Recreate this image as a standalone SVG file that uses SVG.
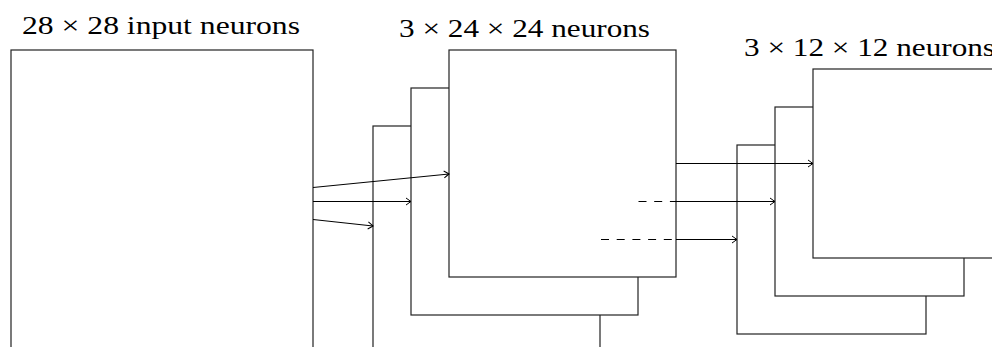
<svg xmlns="http://www.w3.org/2000/svg" width="992" height="347" viewBox="0 0 992 347">
<style>
.lbl{font-family:"Liberation Serif","DejaVu Serif",serif;font-size:26px;fill:#000}
.layer{fill:#fff;stroke:#222;stroke-width:1.2}
.conn{fill:none;stroke:#000;stroke-width:1}
.dash{fill:none;stroke:#000;stroke-width:1;stroke-dasharray:8 7.7}
</style>
<defs>
<marker id="arr" viewBox="-7 -5 8 10" refX="0" refY="0" markerWidth="8" markerHeight="10" markerUnits="userSpaceOnUse" orient="auto">
<path d="M-5,-3.5 Q-1.5,-1 0,0 Q-1.5,1 -5,3.5" fill="none" stroke="#000" stroke-width="1"/>
</marker>
</defs>
<rect x="0" y="0" width="992" height="347" fill="#fff"/>
<g id="input">
<rect class="layer" x="11" y="50" width="302" height="320"/>
<text class="lbl" x="22" y="34" textLength="278" lengthAdjust="spacingAndGlyphs">28 × 28 input neurons</text>
</g>
<g id="conv">
<rect class="layer" x="373" y="126" width="227" height="227"/>
<rect class="layer" x="411" y="88" width="227" height="227"/>
<rect class="layer" x="449" y="50" width="227" height="227"/>
<text class="lbl" x="399" y="36.5" textLength="251" lengthAdjust="spacingAndGlyphs">3 × 24 × 24 neurons</text>
</g>
<g id="pool">
<rect class="layer" x="737" y="145" width="189" height="189"/>
<rect class="layer" x="775" y="107" width="189" height="189"/>
<rect class="layer" x="813" y="69" width="189" height="189"/>
<text class="lbl" x="744" y="55.5" textLength="251" lengthAdjust="spacingAndGlyphs">3 × 12 × 12 neurons</text>
</g>
<g id="connectors">
<line class="conn" x1="313" y1="187.5" x2="449" y2="174" marker-end="url(#arr)"/>
<line class="conn" x1="313" y1="201.5" x2="411" y2="201.5" marker-end="url(#arr)"/>
<line class="conn" x1="313" y1="219.5" x2="373" y2="226" marker-end="url(#arr)"/>
<line class="conn" x1="676" y1="163.5" x2="813" y2="163.5" marker-end="url(#arr)"/>
<line class="dash" x1="638.5" y1="201.5" x2="676" y2="201.5"/>
<line class="conn" x1="676" y1="201.5" x2="775" y2="201.5" marker-end="url(#arr)"/>
<line class="dash" x1="601" y1="239.5" x2="676" y2="239.5"/>
<line class="conn" x1="676" y1="239.5" x2="737" y2="239.5" marker-end="url(#arr)"/>
</g>
</svg>
